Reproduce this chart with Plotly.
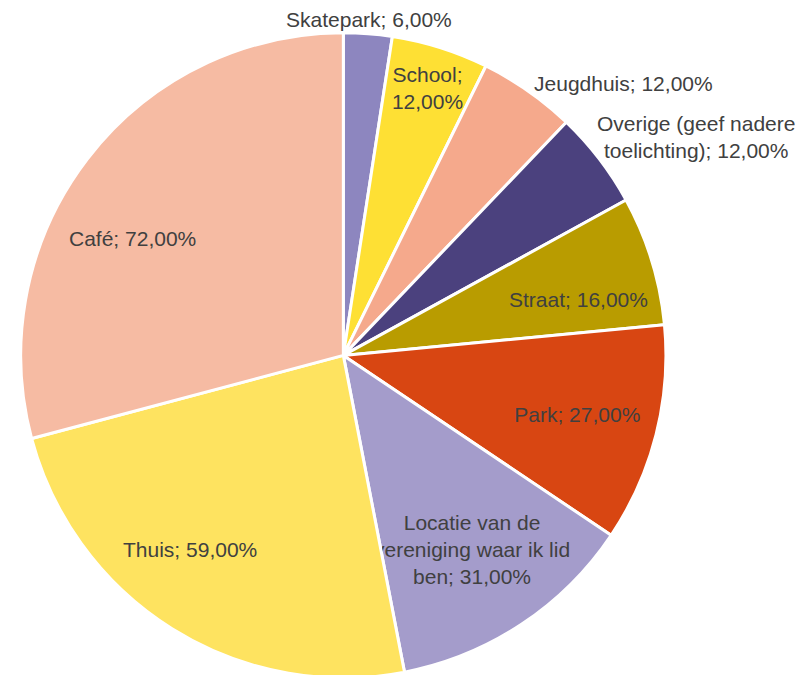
import math
import plotly.graph_objects as go

# Waar drink je alcohol? (meerdere antwoorden mogelijk)
labels = ['Skatepark', 'School', 'Jeugdhuis', 'Overige (geef nadere toelichting)',
          'Straat', 'Park', 'Locatie van de vereniging waar ik lid ben', 'Thuis', 'Café']
values = [6, 12, 12, 12, 16, 27, 31, 59, 72]
display = ['Skatepark; 6,00%', 'School;<br>12,00%', 'Jeugdhuis; 12,00%',
           'Overige (geef nadere<br>toelichting); 12,00%', 'Straat; 16,00%', 'Park; 27,00%',
           'Locatie van de<br>vereniging waar ik lid<br>ben; 31,00%', 'Thuis; 59,00%', 'Café; 72,00%']
positions = ['none', 'inside', 'outside', 'none', 'none', 'inside', 'inside', 'none', 'none']
colors = ['#8D86BF', '#FEE034', '#F5A98C', '#4B417E', '#B99C00', '#D84612',
          '#A49CCB', '#FEE360', '#F6BBA3']

W, H = 809, 675
dom_x = [0.0127, 0.8163]
dom_y = [0.0, 0.963]
font = dict(family='Liberation Sans, Arial, sans-serif', size=21, color='#404040')

fig = go.Figure(go.Pie(
    labels=labels,
    values=values,
    text=display,
    textinfo='text',
    textposition=positions,
    insidetextorientation='horizontal',
    sort=False,
    direction='clockwise',
    rotation=0,
    marker=dict(colors=colors, line=dict(color='white', width=3)),
    textfont=font,
    domain=dict(x=dom_x, y=dom_y),
    showlegend=False,
))

# some labels are placed like the original: where along the slice (fraction of
# its angle), how far from the centre (fraction of radius), and the anchors
label_spots = {
    0: (0.5, 1.055, 'center', 'middle'),
    3: (0.5, 0.985, 'left', 'bottom'),
    4: (0.66, 0.75, 'center', 'middle'),
    7: (0.57, 0.77, 'center', 'middle'),
    8: (0.42, 0.75, 'center', 'middle'),
}
cx = sum(dom_x) / 2 * W
cy = (1 - sum(dom_y) / 2) * H
r = 322
total = sum(values)
start = 0
for i, v in enumerate(values):
    a0 = start
    start += v
    if i not in label_spots:
        continue
    frac, f, xa, ya = label_spots[i]
    ang = (a0 + v * frac) / total * 2 * math.pi
    px_ = cx + r * f * math.sin(ang)
    py_ = cy - r * f * math.cos(ang)
    fig.add_annotation(x=px_ / W, y=1 - py_ / H, xref='paper', yref='paper',
                       xanchor=xa, yanchor=ya, align='center',
                       text=display[i], showarrow=False, font=font)

fig.update_layout(
    width=W, height=H,
    margin=dict(l=0, r=0, t=0, b=0),
    paper_bgcolor='white',
    plot_bgcolor='white',
    uniformtext=dict(minsize=21, mode='show'),
)

fig.write_html("out.html")
